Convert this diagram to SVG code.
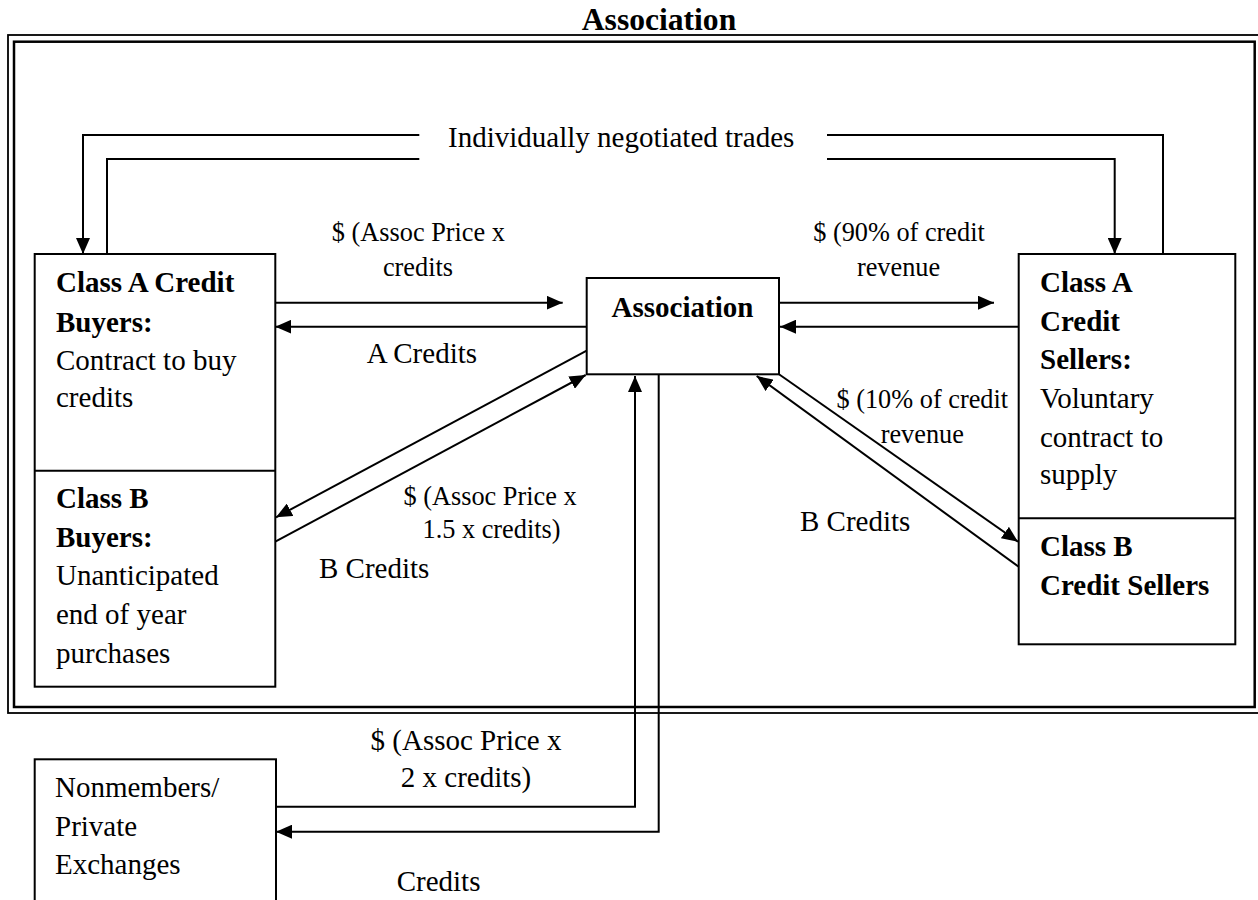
<svg xmlns="http://www.w3.org/2000/svg" width="1258" height="900" viewBox="0 0 1258 900">
<defs>
<marker id="arr" markerUnits="userSpaceOnUse" markerWidth="16" markerHeight="14" refX="16" refY="7" orient="auto">
<path d="M0,0 L16,7 L0,14 z" fill="#000"/>
</marker>
<style>
.t{font-family:"Liberation Serif","Times New Roman",serif;font-size:29px;fill:#000}
.b{font-weight:bold}
.s{font-size:26.3px}
.box{fill:#fff;stroke:#000;stroke-width:2}
.c{fill:none;stroke:#000;stroke-width:2}
.a{marker-end:url(#arr)}
</style>
</defs>
<rect width="1258" height="900" fill="#fff"/>
<g id="frame">
<rect x="8" y="35" width="1260" height="678" fill="none" stroke="#000" stroke-width="1.8"/>
<rect x="14" y="41.7" width="1240.7" height="665.3" fill="none" stroke="#000" stroke-width="2.5"/>
<text class="t b" x="659" y="30" text-anchor="middle" style="font-size:31.6px">Association</text>
</g>
<g id="buyers">
<rect class="box" x="34.7" y="254" width="240.6" height="432.7"/>
<line x1="34.7" y1="470.7" x2="275.3" y2="470.7" stroke="#000" stroke-width="2"/>
<text class="t b" x="56" y="292">Class A Credit</text>
<text class="t b" x="56" y="331.5">Buyers:</text>
<text class="t" x="56" y="369.5">Contract to buy</text>
<text class="t" x="56" y="407">credits</text>
<text class="t b" x="56" y="508">Class B</text>
<text class="t b" x="56" y="547">Buyers:</text>
<text class="t" x="56" y="585">Unanticipated</text>
<text class="t" x="56" y="624">end of year</text>
<text class="t" x="56" y="663">purchases</text>
</g>
<g id="association">
<rect class="box" x="586.7" y="278" width="192.3" height="96.3"/>
<text class="t b" x="682.5" y="316.7" text-anchor="middle">Association</text>
</g>
<g id="sellers">
<rect class="box" x="1018.7" y="254" width="216.6" height="390.3"/>
<line x1="1018.7" y1="518.3" x2="1235.3" y2="518.3" stroke="#000" stroke-width="2"/>
<text class="t b" x="1040" y="292">Class A</text>
<text class="t b" x="1040" y="330.7">Credit</text>
<text class="t b" x="1040" y="369.3">Sellers:</text>
<text class="t" x="1040" y="408.3">Voluntary</text>
<text class="t" x="1040" y="446.7">contract to</text>
<text class="t" x="1040" y="484">supply</text>
<text class="t b" x="1040" y="556">Class B</text>
<text class="t b" x="1040" y="595">Credit Sellers</text>
</g>
<g id="nonmembers">
<rect class="box" x="34.7" y="759.3" width="241.3" height="160"/>
<text class="t" x="55" y="796.7">Nonmembers/</text>
<text class="t" x="55" y="836">Private</text>
<text class="t" x="55" y="874">Exchanges</text>
</g>
<g id="connectors">
<path class="c" d="M107,254 V159 H419.3"/>
<path class="c a" d="M827,159 H1114.7 V254"/>
<path class="c" d="M1163,254 V135 H827"/>
<path class="c a" d="M419.3,135 H83 V254"/>
<path class="c a" d="M275.3,302.7 H562.7"/>
<path class="c a" d="M586.7,326.7 H275.3"/>
<path class="c a" d="M779,302.7 H994"/>
<path class="c a" d="M1018.7,326.7 H780"/>
<path class="c a" d="M586.7,350.7 L276,517.3"/>
<path class="c a" d="M275.3,541.7 L585.7,375"/>
<path class="c a" d="M779,374.3 L1018,541.7"/>
<path class="c a" d="M1018.7,566.7 L756.7,376"/>
<path class="c a" d="M276,806.7 H635 V376"/>
<path class="c a" d="M658.7,374.3 V831.7 H276"/>
</g>
<g id="labels">
<text class="t" x="448" y="147">Individually negotiated trades</text>
<text class="t s" x="418.4" y="241" text-anchor="middle">$ (Assoc Price x</text>
<text class="t s" x="418" y="276" text-anchor="middle">credits</text>
<text class="t s" x="899" y="241" text-anchor="middle">$ (90% of credit</text>
<text class="t s" x="898.5" y="276" text-anchor="middle">revenue</text>
<text class="t" x="366.7" y="362.7">A Credits</text>
<text class="t s" x="490" y="504.5" text-anchor="middle">$ (Assoc Price x</text>
<text class="t s" x="491.5" y="538.3" text-anchor="middle">1.5 x credits)</text>
<text class="t" x="319" y="578">B Credits</text>
<text class="t s" x="922.3" y="408.3" text-anchor="middle">$ (10% of credit</text>
<text class="t s" x="922.3" y="443.3" text-anchor="middle">revenue</text>
<text class="t" x="800" y="530.5">B Credits</text>
<text class="t" x="466" y="750" text-anchor="middle">$ (Assoc Price x</text>
<text class="t" x="466" y="786.7" text-anchor="middle">2 x credits)</text>
<text class="t" x="396.7" y="891">Credits</text>
</g>
</svg>
